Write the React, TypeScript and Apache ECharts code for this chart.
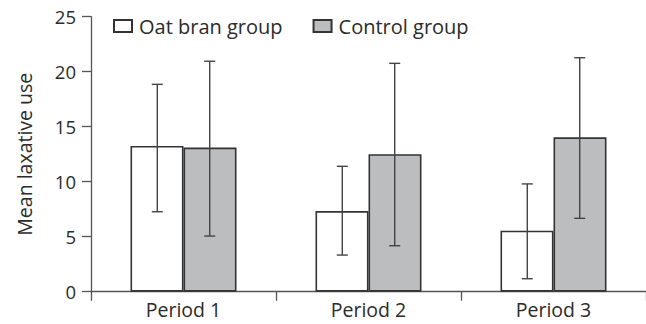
import React, { useEffect, useRef } from "react";
import * as echarts from "echarts";

const categories = ["Period 1", "Period 2", "Period 3"];
const oatMeans = [13.25, 7.33, 5.55];
const oatLow = [7.27, 3.33, 1.18];
const oatHigh = [18.85, 11.4, 9.8];
const ctrlMeans = [13.1, 12.5, 14.03];
const ctrlLow = [5.06, 4.18, 6.67];
const ctrlHigh = [20.95, 20.76, 21.27];
const seriesNames = ["Oat bran group", "Control group"];
const yTicks = { min: 0, max: 25, interval: 5 };

const FONT = "'Open Sans', 'Noto Sans', sans-serif";
const TEXT = "#2b2b2b";
const AXIS = "#555555";

export default function App() {
  const ref = useRef<HTMLDivElement>(null);
  useEffect(() => {
    if (!ref.current) return;
    const chart = echarts.init(ref.current, undefined, { renderer: "svg" });
    const barFrac = 53 / 187;
    const makeErr = (low: number[], high: number[], side: number) => ({
      type: "custom",
      z: 5,
      silent: true,
      data: categories.map((_, i) => [i, low[i], high[i]]),
      encode: { x: 0, y: [1, 2] },
      renderItem: (params: any, api: any) => {
        const i = api.value(0);
        const cw = api.size([1, 0])[0];
        const off = side * cw * barFrac * 0.5;
        const lo = api.coord([i, api.value(1)]);
        const hi = api.coord([i, api.value(2)]);
        const x = lo[0] + off;
        const cap = 5.5;
        const style = { stroke: "#444444", lineWidth: 1.4 };
        return {
          type: "group",
          children: [
            { type: "line", shape: { x1: x, y1: lo[1], x2: x, y2: hi[1] }, style },
            { type: "line", shape: { x1: x - cap, y1: lo[1], x2: x + cap, y2: lo[1] }, style },
            { type: "line", shape: { x1: x - cap, y1: hi[1], x2: x + cap, y2: hi[1] }, style },
          ],
        };
      },
    });
    chart.setOption({
      animation: false,
      backgroundColor: "#ffffff",
      textStyle: { fontFamily: FONT },
      legend: {
        data: seriesNames,
        left: 108,
        top: 11,
        itemWidth: 18,
        itemHeight: 12,
        itemGap: 30,
        icon: "rect",
        textStyle: { fontFamily: FONT, fontSize: 20, color: TEXT, padding: [0, 0, 0, 2] },
      },
      grid: { left: 91, right: -6, top: 16.7, bottom: 32.3, containLabel: false },
      xAxis: {
        type: "category",
        data: categories,
        boundaryGap: true,
        axisLine: { lineStyle: { color: AXIS, width: 1.3 } },
        axisTick: { show: true, length: 9, lineStyle: { color: AXIS, width: 1.3 } },
        axisLabel: { fontFamily: FONT, fontSize: 19.5, color: TEXT, margin: 8 },
      },
      yAxis: {
        type: "value",
        min: yTicks.min,
        max: yTicks.max,
        interval: yTicks.interval,
        name: "Mean laxative use",
        nameLocation: "middle",
        nameGap: 57,
        nameTextStyle: { fontFamily: FONT, fontSize: 19.5, color: TEXT },
        axisLine: { show: true, lineStyle: { color: AXIS, width: 1.3 } },
        axisTick: { show: true, length: 9, lineStyle: { color: AXIS, width: 1.3 } },
        splitLine: { show: false },
        axisLabel: { fontFamily: FONT, fontSize: 18.5, color: TEXT, margin: 15 },
      },
      series: [
        {
          name: seriesNames[0],
          type: "bar",
          data: oatMeans,
          barWidth: 53,
          barGap: "0%",
          itemStyle: { color: "#ffffff", borderColor: "#333333", borderWidth: 1.6 },
        },
        {
          name: seriesNames[1],
          type: "bar",
          data: ctrlMeans,
          barWidth: 53,
          barGap: "0%",
          itemStyle: { color: "#bcbdbf", borderColor: "#333333", borderWidth: 1.6 },
        },
        makeErr(oatLow, oatHigh, -1),
        makeErr(ctrlLow, ctrlHigh, 1),
      ],
    });
    return () => chart.dispose();
  }, []);
  return <div ref={ref} style={{ width: 646, height: 324, position: "absolute", left: 0, top: 0 }} />;
}
